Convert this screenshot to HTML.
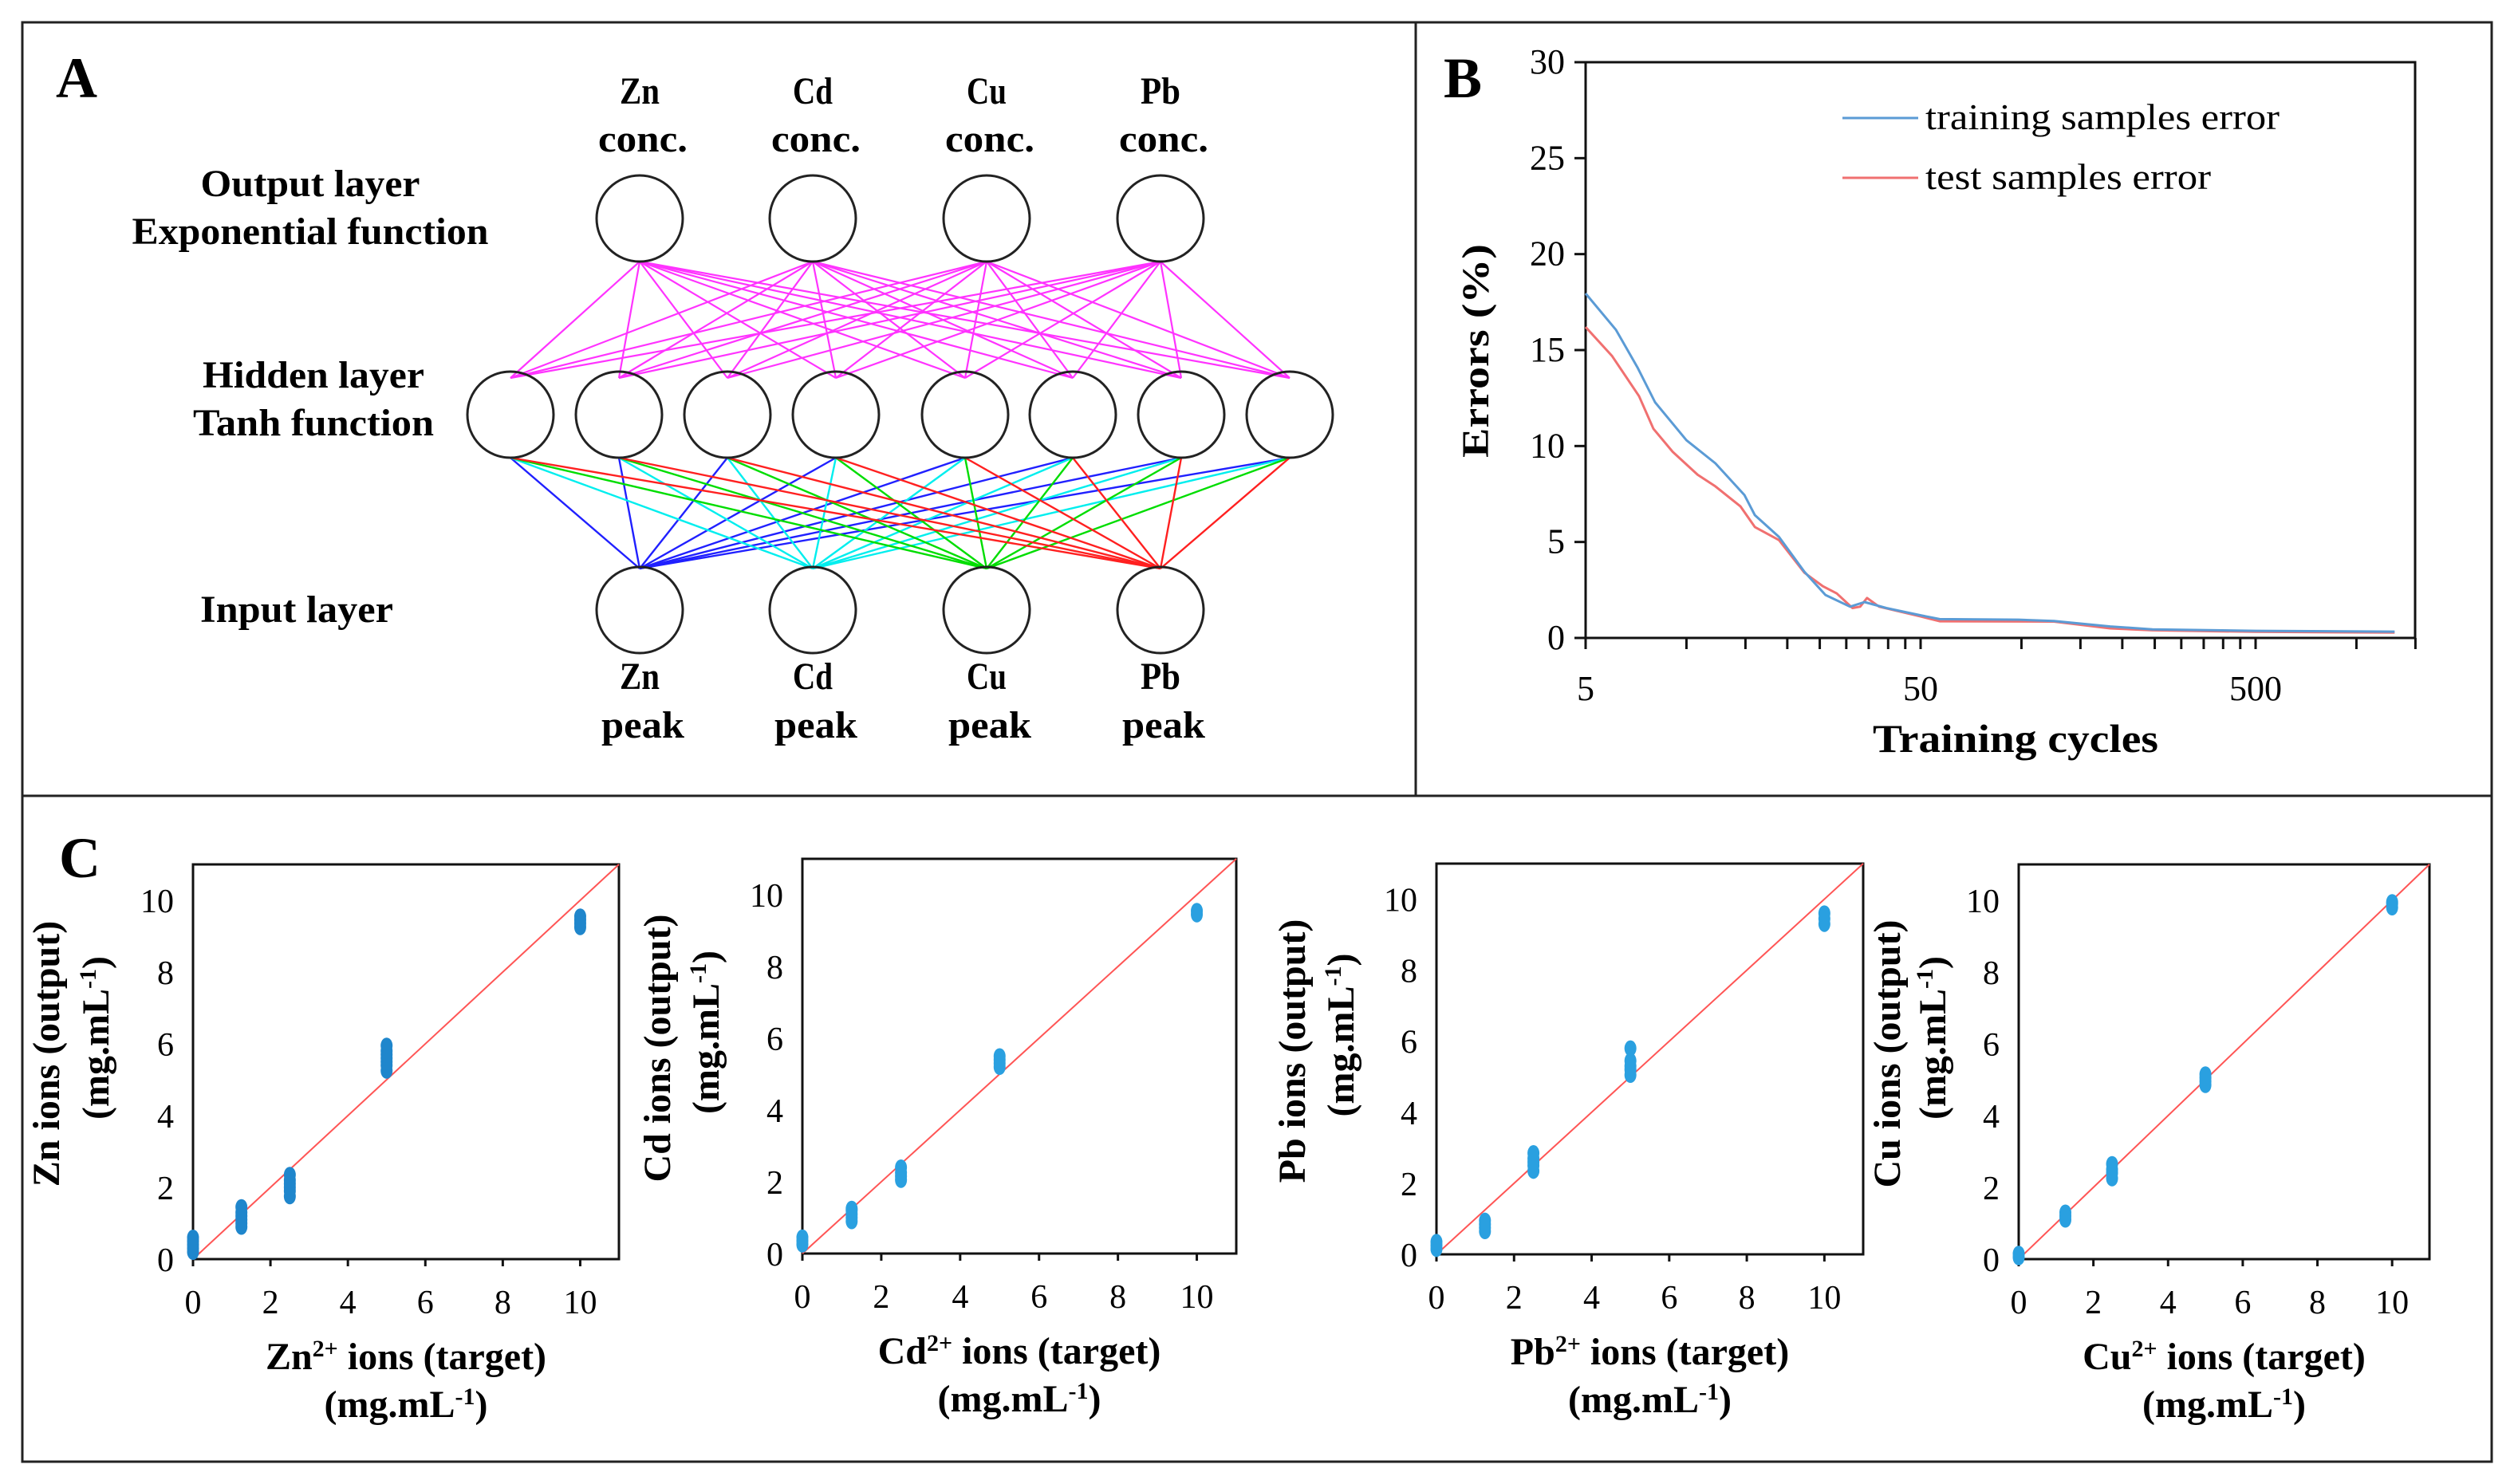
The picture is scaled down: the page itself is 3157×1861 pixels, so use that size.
<!DOCTYPE html>
<html><head><meta charset="utf-8"><style>
html,body{margin:0;padding:0;background:#fff;}
svg{display:block;}
svg text{font-family:"Liberation Serif","Times New Roman",serif;fill:#000;}
</style></head><body>
<svg id="fig" width="3157" height="1861" viewBox="0 0 3157 1861" xmlns="http://www.w3.org/2000/svg" font-family="Liberation Serif, serif">
<rect x="0" y="0" width="3157" height="1861" fill="#fff"/>
<g stroke="#222" stroke-width="3" fill="none">
<rect x="28" y="28" width="3096" height="1805"/>
<line x1="28" y1="998" x2="3124" y2="998"/>
<line x1="1775" y1="28" x2="1775" y2="998"/>
</g>
<g id="panelA"></g>
<g id="panelB"></g>
<g id="panelC"></g>
</svg>
<script>
// ---------- Panel B data ----------
const cyclesTrain = [5, 6.16, 7.14, 8.06, 10, 12.2, 14.9, 16, 18.9, 22.5, 26, 30.8, 34, 39.5, 50, 57, 98, 125, 184, 246, 500, 1300];
const errTrain =    [17.95, 16.05, 14.1, 12.28, 10.3, 9.1, 7.44, 6.4, 5.26, 3.45, 2.24, 1.63, 1.87, 1.56, 1.18, 0.98, 0.95, 0.88, 0.6, 0.45, 0.37, 0.33];
const cyclesTest = [5, 5.99, 7.22, 7.97, 9.1, 10.8, 12.2, 14.5, 16, 18.9, 22.5, 25.5, 28.1, 31.3, 33, 34.6, 37.6, 50, 57, 125, 184, 246, 500, 1300];
const errTest =    [16.2, 14.7, 12.6, 10.9, 9.7, 8.5, 7.9, 6.85, 5.78, 5.1, 3.4, 2.7, 2.32, 1.56, 1.63, 2.08, 1.63, 1.12, 0.87, 0.85, 0.5, 0.4, 0.32, 0.28];
const yTicksB = [0, 5, 10, 15, 20, 25, 30];
const xLabelsB = [5, 50, 500];
const xMinorB = [5,10,15,20,25,30,35,40,45,50,100,150,200,250,300,350,400,450,500,1000,1500];

// ---------- Panel C data ----------
const scatterTitles = ["Zn", "Cd", "Pb", "Cu"];
const targets = [0, 1.25, 2.5, 5, 10];
const outZn = [[0.2,0.3,0.4,0.5,0.6],[0.9,1.0,1.1,1.2,1.3,1.45],[1.75,1.9,2.0,2.1,2.2,2.35],[5.25,5.4,5.5,5.6,5.7,5.8,5.95],[9.25,9.35,9.45,9.55]];
const outCd = [[0.25,0.35,0.45],[0.9,1.0,1.1,1.2,1.25],[2.05,2.15,2.25,2.4],[5.2,5.3,5.4,5.5],[9.45,9.55]];
const outPb = [[0.15,0.25,0.35],[0.65,0.75,0.85,0.95],[2.35,2.5,2.6,2.7,2.85],[5.05,5.2,5.3,5.45,5.8],[9.3,9.45,9.6]];
const outCu = [[0.05,0.15],[1.1,1.2,1.3],[2.25,2.4,2.5,2.65],[4.85,4.95,5.05,5.15],[9.8,9.9,9.95]];
const outputs = [outZn, outCd, outPb, outCu];
const cTicks = [0, 2, 4, 6, 8, 10];

const NS = "http://www.w3.org/2000/svg";
function mk(parent, tag, attrs, txt){
  const e = document.createElementNS(NS, tag);
  for (const k in attrs) e.setAttribute(k, attrs[k]);
  if (txt !== undefined) e.textContent = txt;
  parent.appendChild(e);
  return e;
}

// ---------- Panel A ----------
(function(){
  const g = document.getElementById('panelA');
  const outX = [802, 1019, 1237, 1455];
  const hidX = [640, 776, 912, 1048, 1210, 1345, 1481, 1617];
  const yOut = 274, yHid = 520, yIn = 765, r = 54;
  const inColors = ["#2020ff", "#00eeee", "#00dd00", "#ff2020"];
  hidX.forEach(hx => outX.forEach(ox => {
    const l = mk(g, 'line', {x1:hx, y1:yHid-r+8, x2:ox, y2:yOut+r, stroke:'#ff33ff', 'stroke-width':2.2});
    
    
  }));
  outX.forEach((ix, i) => hidX.forEach(hx => {
    const l = mk(g, 'line', {x1:ix, y1:yIn-r+2, x2:hx, y2:yHid+r, stroke:inColors[i], 'stroke-width':2.4});
    
    
  }));
  const node = (x, y, nm) => {
    const c = mk(g, 'ellipse', {cx:x, cy:y, rx:r, ry:r, fill:'none', stroke:'#222', 'stroke-width':3});
    
    
  };
  outX.forEach(x => node(x, yOut, 'output-node'));
  hidX.forEach(x => node(x, yHid, 'hidden-node'));
  outX.forEach(x => node(x, yIn, 'input-node'));
  const ions = ["Zn", "Cd", "Cu", "Pb"];
  const T = (x, y, s, len, nm, fs) => {
    const t = mk(g, 'text', {x:x, y:y, 'text-anchor':'middle', 'font-size':fs||48, 'font-weight':'bold', textLength:len, lengthAdjust:'spacingAndGlyphs'}, s);
    
    
  };
  ions.forEach((s, i) => {
    T(outX[i], 130, s, s.length*25, 'output-label');
    T(outX[i]+4, 190, 'conc.', 112, 'output-label-conc');
    T(outX[i], 864, s, s.length*25, 'input-label');
    T(outX[i]+4, 925, 'peak', 104, 'input-label-peak');
  });
  T(389, 246, 'Output layer', 275, 'output-layer-label');
  T(389, 306, 'Exponential function', 447, 'output-function-label');
  T(393, 486, 'Hidden layer', 278, 'hidden-layer-label');
  T(393, 546, 'Tanh function', 302, 'hidden-function-label');
  T(372, 780, 'Input layer', 242, 'input-layer-label');
  const A = mk(g, 'text', {x:70, y:122, 'font-size':72, 'font-weight':'bold'}, 'A');
  
  
})();

// ---------- Panel B ----------
(function(){
  const g = document.getElementById('panelB');
  const L = 1988, R = 3028, T = 78, B = 800;
  const decade = 420;
  const xs = c => L + Math.log10(c/5)*decade;
  const ys = v => B - v*(B-T)/30;
  const frame = mk(g, 'rect', {x:L, y:T, width:R-L, height:B-T, fill:'none', stroke:'#111', 'stroke-width':3});
  
  
  yTicksB.forEach(v => {
    mk(g, 'line', {x1:L-14, y1:ys(v), x2:L, y2:ys(v), stroke:'#111', 'stroke-width':3});
    const t = mk(g, 'text', {x:L-26, y:ys(v)+14, 'text-anchor':'end', 'font-size':44}, String(v));
    
    
  });
  xMinorB.forEach(c => mk(g, 'line', {x1:xs(c), y1:B, x2:xs(c), y2:B+14, stroke:'#111', 'stroke-width':3}));
  xLabelsB.forEach(c => {
    const t = mk(g, 'text', {x:xs(c), y:878, 'text-anchor':'middle', 'font-size':44}, String(c));
    
    
  });
  const path = (cx, ev, col, nm) => {
    const d = cx.map((c, i) => (i ? 'L' : 'M') + xs(c).toFixed(1) + ' ' + ys(ev[i]).toFixed(1)).join(' ');
    const p = mk(g, 'path', {d:d, fill:'none', stroke:col, 'stroke-width':3, 'stroke-linejoin':'round'});
    
    
  };
  path(cyclesTest, errTest, '#f07070', 'test-error-line');
  path(cyclesTrain, errTrain, '#5b9bd5', 'training-error-line');
  const leg1 = mk(g, 'line', {x1:2310, y1:148, x2:2405, y2:148, stroke:'#5b9bd5', 'stroke-width':3});
  
  
  const lt1 = mk(g, 'text', {x:2414, y:162, 'font-size':46, textLength:444, lengthAdjust:'spacingAndGlyphs'}, 'training samples error');
  
  
  const leg2 = mk(g, 'line', {x1:2310, y1:223, x2:2405, y2:223, stroke:'#f07070', 'stroke-width':3});
  
  
  const lt2 = mk(g, 'text', {x:2414, y:237, 'font-size':46, textLength:358, lengthAdjust:'spacingAndGlyphs'}, 'test samples error');
  
  
  const yl = mk(g, 'text', {x:0, y:0, 'text-anchor':'middle', 'font-size':48, 'font-weight':'bold', transform:'translate(1866,440) rotate(-90)', textLength:268, lengthAdjust:'spacingAndGlyphs'}, 'Errors (%)');
  
  
  const xl = mk(g, 'text', {x:2527, y:943, 'text-anchor':'middle', 'font-size':50, 'font-weight':'bold', textLength:358, lengthAdjust:'spacingAndGlyphs'}, 'Training cycles');
  
  
  const Bl = mk(g, 'text', {x:1810, y:122, 'font-size':72, 'font-weight':'bold'}, 'B');
  
  
})();

// ---------- Panel C ----------
(function(){
  const g = document.getElementById('panelC');
  const boxes = [
    {L:242, R:776, T:1084, B:1579, ylx:[-184,-122]},
    {L:1006, R:1550, T:1077, B:1572, ylx:[-182,-121]},
    {L:1801, R:2336, T:1083, B:1573, ylx:[-181,-120]},
    {L:2531, R:3046, T:1084, B:1579, ylx:[-165,-108]}
  ];
  const cols = ['#1f86cc', '#2aa0e0', '#2aa0e0', '#2aa0e0'];
  boxes.forEach((bx, k) => {
    const sg = mk(g, 'g', {});
    
    
    const xs = v => bx.L + v*(bx.R-bx.L)/11;
    const ys = v => bx.B - v*(bx.B-bx.T)/11;
    const fr = mk(sg, 'rect', {x:bx.L, y:bx.T, width:bx.R-bx.L, height:bx.B-bx.T, fill:'none', stroke:'#111', 'stroke-width':3});
    
    
    cTicks.forEach(v => {
      mk(sg, 'line', {x1:xs(v), y1:bx.B, x2:xs(v), y2:bx.B+9, stroke:'#111', 'stroke-width':3});
      const tx = mk(sg, 'text', {x:xs(v), y:bx.B+68, 'text-anchor':'middle', 'font-size':42}, String(v));
      
      
      const ty = mk(sg, 'text', {x:bx.L-24, y:ys(v)+15, 'text-anchor':'end', 'font-size':42}, String(v));
      
      
    });
    const ln = mk(sg, 'line', {x1:xs(0), y1:ys(0), x2:xs(11), y2:ys(11), stroke:'#ff5555', 'stroke-width':2});
    
    
    outputs[k].forEach((vals, i) => vals.forEach(v => {
      const p = mk(sg, 'ellipse', {cx:xs(targets[i]), cy:ys(v), rx:7.5, ry:10, fill:cols[k]});
      
      
    }));
    const cy = (bx.T + bx.B)/2 - 10;
    const y1 = mk(sg, 'text', {x:0, y:0, 'text-anchor':'middle', 'font-size':48, 'font-weight':'bold', transform:`translate(${bx.L+bx.ylx[0]+16},${cy}) rotate(-90)`}, scatterTitles[k] + ' ions (output)');
    
    
    const y2 = mk(sg, 'text', {x:0, y:0, 'text-anchor':'middle', 'font-size':48, 'font-weight':'bold', transform:`translate(${bx.L+bx.ylx[1]+16},${cy-20}) rotate(-90)`});
    y2.innerHTML = '(mg.mL<tspan font-size="30" dy="-16">-1</tspan><tspan dy="16">)</tspan>';
    
    
    const mx = (bx.L + bx.R)/2;
    const x1 = mk(sg, 'text', {x:mx, y:bx.B+138, 'text-anchor':'middle', 'font-size':48, 'font-weight':'bold'});
    x1.innerHTML = scatterTitles[k] + '<tspan font-size="30" dy="-16">2+</tspan><tspan dy="16"> ions (target)</tspan>';
    
    
    const x2 = mk(sg, 'text', {x:mx, y:bx.B+198, 'text-anchor':'middle', 'font-size':48, 'font-weight':'bold'});
    x2.innerHTML = '(mg.mL<tspan font-size="30" dy="-16">-1</tspan><tspan dy="16">)</tspan>';
    
    
  });
  const C = mk(g, 'text', {x:74, y:1100, 'font-size':72, 'font-weight':'bold'}, 'C');
  
  
})();
</script>
</body></html>
